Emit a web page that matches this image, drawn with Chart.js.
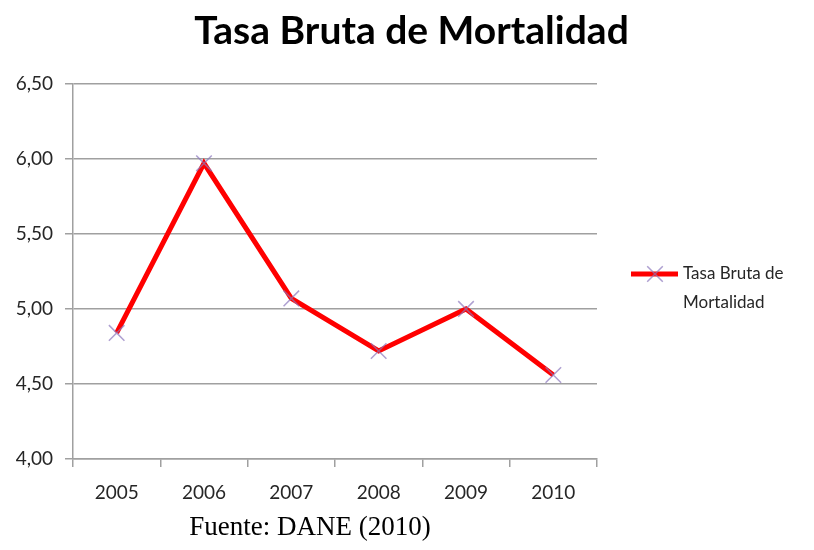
<!DOCTYPE html>
<html>
<head>
<meta charset="utf-8">
<script src="https://cdn.jsdelivr.net/npm/chart.js@4"></script>
<style>
 html,body{margin:0;padding:0;background:#fff;}
 #wrap{position:relative;width:814px;height:550px;}
 #fuente{position:absolute;left:0;top:510px;width:620px;text-align:center;
  font-family:"Liberation Serif","Times New Roman",serif;font-size:27px;line-height:32px;color:#000;}
</style>
</head>
<body>
<div id="wrap">
 <canvas id="chart" width="814" height="550"></canvas>
 <div id="fuente">Fuente: DANE (2010)</div>
</div>
<script>
const years=['2005','2006','2007','2008','2009','2010'];
const tasa=[4.84,5.97,5.07,4.72,5.00,4.56];
const serieName=['Tasa Bruta de','Mortalidad'];
const yMin=4, yMax=6.5, yStep=0.5;

const gridCol='#a0a0a0';
const textCol='#262626';
const font='Lato, "Open Sans", sans-serif';

// legend drawn at right, two lines like the original
const sideLegend={
 id:'sideLegend',
 afterDraw(chart){
  const ds=chart.data.datasets[0];
  const ctx=chart.ctx;
  const x0=chart.chartArea.right+34, y0=274;
  ctx.save();
  ctx.strokeStyle=ds.borderColor;
  ctx.lineWidth=ds.borderWidth;
  ctx.beginPath();ctx.moveTo(x0,y0);ctx.lineTo(x0+47,y0);ctx.stroke();
  ctx.strokeStyle=ds.pointBorderColor;
  ctx.lineWidth=ds.pointBorderWidth;
  const r=ds.pointRadius*0.707, cx=x0+24;
  ctx.beginPath();
  ctx.moveTo(cx-r,y0-r);ctx.lineTo(cx+r,y0+r);
  ctx.moveTo(cx-r,y0+r);ctx.lineTo(cx+r,y0-r);
  ctx.stroke();
  ctx.fillStyle=textCol;
  ctx.font='17px '+font;
  ctx.textBaseline='middle';
  ctx.textAlign='left';
  serieName.forEach((t,i)=>ctx.fillText(t,x0+52,y0+i*29));
  ctx.restore();
 }
};

new Chart(document.getElementById('chart'),{
 type:'line',
 data:{labels:years,datasets:[{
  label:serieName.join(' '),
  data:tasa,
  borderColor:'#ff0000',
  borderWidth:5,
  tension:0,
  pointStyle:'crossRot',
  pointRadius:11,
  pointBorderColor:'rgba(140,120,190,0.7)',
  pointBorderWidth:1.5,
  pointBackgroundColor:'rgba(140,120,190,0.7)'
 }]},
 options:{
  responsive:false,
  animation:false,
  layout:{padding:{left:9,right:0,top:0,bottom:41}},
  plugins:{
   legend:{display:false},
   tooltip:{enabled:false},
   title:{display:true,text:'Tasa Bruta de Mortalidad',color:'#000',
    font:{family:font,size:39,weight:'bold'},padding:{top:8,bottom:29}}
  },
  scales:{
   x:{
    offset:true,
    grid:{offset:true,drawOnChartArea:false,drawTicks:true,tickLength:8,color:gridCol,lineWidth:1.5},
    border:{color:gridCol,width:1.5},
    ticks:{color:textCol,font:{family:font,size:19},padding:14,maxRotation:0},
    afterFit(s){s.height=50;}
   },
   y:{
    min:yMin,max:yMax,
    grid:{color:gridCol,lineWidth:1.5,tickLength:8},
    border:{color:gridCol,width:1.5},
    ticks:{stepSize:yStep,color:textCol,font:{family:font,size:19},padding:12,
     callback:v=>v.toFixed(2).replace('.',',')},
    afterFit(s){s.width=64;}
   },
   // empty axis on the right keeps room for the legend
   side:{
    position:'right',
    display:true,
    grid:{display:false},
    border:{display:false},
    ticks:{display:false},
    afterFit(s){s.width=217;}
   }
  }
 },
 plugins:[sideLegend]
});
</script>
</body>
</html>
